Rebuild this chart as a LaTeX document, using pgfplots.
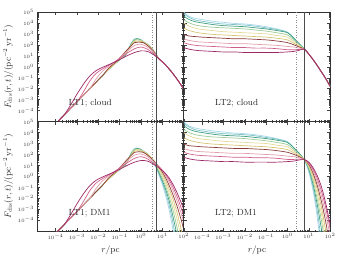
\documentclass[border=0pt]{standalone}
\usepackage{pgfplots}
\pgfplotsset{compat=1.18}
\usepgfplotslibrary{groupplots}
\definecolor{C1}{HTML}{A9D8EA}
\definecolor{C2}{HTML}{7CC3C9}
\definecolor{C3}{HTML}{3F9E80}
\definecolor{C4}{HTML}{9CCB96}
\definecolor{C5}{HTML}{E4DA98}
\definecolor{C6}{HTML}{D6C472}
\definecolor{C7}{HTML}{8C3B3A}
\definecolor{C8}{HTML}{E39CAB}
\definecolor{C9}{HTML}{CF5F8A}
\definecolor{C10}{HTML}{9C2766}
\pgfplotsset{crv/.style={line width=0.7pt, smooth, tension=0.5, no markers}}
% left panels (LT1): shared part up to r = 2 pc, tail given as argument
\newcommand{\LTa}[2]{\addplot[#1,crv] coordinates {(1e-4,6.310e-6) (1.259e-4,1e-5) (2.512e-4,3.981e-5) (5.012e-4,1.585e-4) (1e-3,6.310e-4) (1.995e-3,2.512e-3) (3.981e-3,1e-2) (7.943e-3,3.981e-2) (1.585e-2,0.1585) (3.162e-2,0.6310) (6.310e-2,1.995) (0.1259,6.310) (0.1778,10) (0.2512,39.81) (0.3548,158.5) (0.5012,354.8) (0.6310,398.1) (0.8913,316.2) (1.259,199.5) (1.995,112.2) #2};}
\newcommand{\LTb}[2]{\addplot[#1,crv] coordinates {(1e-4,6.310e-6) (1.259e-4,1e-5) (2.512e-4,3.981e-5) (5.012e-4,1.585e-4) (1e-3,6.310e-4) (1.995e-3,2.512e-3) (3.981e-3,1e-2) (7.943e-3,3.981e-2) (1.585e-2,0.1585) (3.162e-2,0.6310) (6.310e-2,1.995) (0.1259,6.310) (0.1778,10) (0.2512,35.48) (0.3548,141.3) (0.5012,316.2) (0.6310,354.8) (0.8913,316.2) (1.259,199.5) (1.995,112.2) #2};}
\newcommand{\LTc}[2]{\addplot[#1,crv] coordinates {(1e-4,6.310e-6) (1.259e-4,1e-5) (2.512e-4,3.981e-5) (5.012e-4,1.585e-4) (1e-3,6.310e-4) (1.995e-3,2.512e-3) (3.981e-3,1e-2) (7.943e-3,3.981e-2) (1.585e-2,0.1585) (3.162e-2,0.6310) (6.310e-2,1.995) (0.1259,6.310) (0.1778,10) (0.2512,31.62) (0.3548,125.9) (0.5012,281.8) (0.6310,354.8) (0.8913,316.2) (1.259,199.5) (1.995,112.2) #2};}
\newcommand{\LTd}[2]{\addplot[#1,crv] coordinates {(1e-4,6.310e-6) (1.259e-4,1e-5) (2.512e-4,3.981e-5) (5.012e-4,1.585e-4) (1e-3,6.310e-4) (1.995e-3,2.512e-3) (3.981e-3,1e-2) (7.943e-3,3.981e-2) (1.585e-2,0.1585) (3.162e-2,0.6310) (6.310e-2,1.995) (0.1259,6.310) (0.1778,11.22) (0.2512,31.62) (0.3981,177.8) (0.5623,316.2) (0.7943,281.8) (1.259,177.8) (1.995,112.2) #2};}
\newcommand{\LTe}[2]{\addplot[#1,crv] coordinates {(1e-4,6.310e-6) (1.259e-4,1e-5) (2.512e-4,3.981e-5) (5.012e-4,1.585e-4) (1e-3,6.310e-4) (1.995e-3,2.512e-3) (3.981e-3,1e-2) (7.943e-3,3.981e-2) (1.585e-2,0.1585) (3.162e-2,0.6310) (6.310e-2,1.995) (0.1259,7.079) (0.2512,31.62) (0.4467,199.5) (0.6310,281.8) (1,251.2) (1.995,112.2) #2};}
\newcommand{\LTf}[2]{\addplot[#1,crv] coordinates {(1e-4,6.310e-6) (1.259e-4,1e-5) (2.512e-4,3.981e-5) (5.012e-4,1.585e-4) (1e-3,6.310e-4) (1.995e-3,2.512e-3) (3.981e-3,1e-2) (7.943e-3,3.981e-2) (1.585e-2,0.1585) (3.162e-2,0.6310) (6.310e-2,2.239) (0.1259,7.943) (0.2512,39.81) (0.5012,199.5) (0.7079,223.9) (1,199.5) (1.995,100) #2};}
\newcommand{\LTg}[2]{\addplot[#1,crv] coordinates {(1e-4,6.310e-6) (1.259e-4,1e-5) (2.512e-4,3.981e-5) (5.012e-4,1.585e-4) (1e-3,6.310e-4) (1.995e-3,2.512e-3) (3.981e-3,1e-2) (7.943e-3,3.981e-2) (1.585e-2,0.1585) (3.162e-2,0.7943) (6.310e-2,2.512) (0.1259,10) (0.2512,44.67) (0.5012,158.5) (0.7943,177.8) (1.259,158.5) (1.995,89.13) #2};}
\newcommand{\LTh}[2]{\addplot[#1,crv] coordinates {(1e-4,6.310e-6) (1.259e-4,1e-5) (2.512e-4,3.981e-5) (5.012e-4,1.585e-4) (1e-3,6.310e-4) (1.995e-3,2.512e-3) (3.981e-3,1e-2) (7.943e-3,7.943e-2) (1.585e-2,0.3981) (3.162e-2,1.122) (6.310e-2,2.818) (0.1259,8.913) (0.2512,31.62) (0.5012,89.13) (1,112.2) (1.995,63.10) #2};}
\newcommand{\LTi}[2]{\addplot[#1,crv] coordinates {(1e-4,6.310e-6) (1.259e-4,1e-5) (2.512e-4,3.981e-5) (5.012e-4,1.585e-4) (1e-3,6.310e-4) (1.995e-3,5.012e-3) (3.981e-3,5.012e-2) (7.943e-3,0.2512) (1.585e-2,0.6310) (3.162e-2,1.413) (6.310e-2,3.162) (0.1259,7.943) (0.2512,19.95) (0.5012,44.67) (1,63.10) (1.995,39.81) #2};}
\newcommand{\LTj}[2]{\addplot[#1,crv] coordinates {(1e-4,6.310e-6) (1.259e-4,1e-5) (2.512e-4,3.981e-5) (5.012e-4,3.162e-4) (1e-3,3.162e-3) (1.995e-3,2.512e-2) (3.981e-3,0.1413) (7.943e-3,0.4467) (1.585e-2,0.8913) (3.162e-2,1.585) (6.310e-2,2.818) (0.1259,5.623) (0.2512,11.22) (0.5012,19.95) (1,28.18) (1.995,25.12) #2};}
% right panels (LT2)
\newcommand{\RTa}[2]{\addplot[#1,crv] coordinates {(1.35e-5,1e5) (2.512e-5,3.981e4) (5.012e-5,2.512e4) (1e-4,1.995e4) (3.162e-4,1.413e4) (1e-3,1.122e4) (3.162e-3,8913) (1e-2,7943) (3.162e-2,6310) (0.1,4467) (0.3162,2818) (1,1413) (1.995,398.1) #2};}
\newcommand{\RTb}[2]{\addplot[#1,crv] coordinates {(1.35e-5,7.079e4) (2.512e-5,3.162e4) (5.012e-5,1.778e4) (1e-4,1.413e4) (3.162e-4,1e4) (1e-3,7943) (3.162e-3,7079) (1e-2,6310) (3.162e-2,5012) (0.1,3548) (0.3162,2512) (1,1413) (1.995,398.1) #2};}
\newcommand{\RTc}[2]{\addplot[#1,crv] coordinates {(1.35e-5,4.467e4) (2.512e-5,1.995e4) (5.012e-5,1.259e4) (1e-4,1e4) (3.162e-4,7079) (1e-3,5623) (3.162e-3,5012) (1e-2,4467) (3.162e-2,3548) (0.1,2818) (0.3162,1995) (1,1259) (1.995,398.1) #2};}
\newcommand{\RTd}[2]{\addplot[#1,crv] coordinates {(1.35e-5,1.995e4) (2.512e-5,1e4) (5.012e-5,6310) (1e-4,5012) (3.162e-4,3981) (1e-3,3548) (3.162e-3,3162) (1e-2,2818) (3.162e-2,2239) (0.1,1778) (0.3162,1259) (1,794.3) (1.995,281.8) #2};}
\newcommand{\RTe}[2]{\addplot[#1,crv] coordinates {(1.35e-5,1e4) (2.512e-5,5012) (5.012e-5,3162) (1e-4,2512) (3.162e-4,1995) (1e-3,1585) (3.162e-3,1413) (1e-2,1259) (3.162e-2,1122) (0.1,1000) (0.3162,707.9) (1,501.2) (1.995,199.5) #2};}
\newcommand{\RTf}[2]{\addplot[#1,crv] coordinates {(1.35e-5,3548) (2.512e-5,1995) (5.012e-5,1413) (1e-4,1122) (3.162e-4,891.3) (1e-3,794.3) (3.162e-3,707.9) (1e-2,631.0) (3.162e-2,562.3) (0.1,501.2) (0.3162,398.1) (1,281.8) (1.995,141.3) #2};}
\newcommand{\RTg}[2]{\addplot[#1,crv] coordinates {(1.35e-5,891.3) (2.512e-5,631.0) (5.012e-5,562.3) (1e-4,501.2) (3.162e-4,446.7) (1e-3,398.1) (3.162e-3,354.8) (1e-2,354.8) (3.162e-2,316.2) (0.1,281.8) (0.3162,223.9) (1,158.5) (1.995,100) #2};}
\newcommand{\RTh}[2]{\addplot[#1,crv] coordinates {(1.35e-5,354.8) (2.512e-5,251.2) (5.012e-5,199.5) (1e-4,177.8) (3.162e-4,158.5) (1e-3,141.3) (3.162e-3,125.9) (1e-2,125.9) (3.162e-2,112.2) (0.1,100) (0.3162,89.13) (1,70.79) (1.995,63.10) #2};}
\newcommand{\RTi}[2]{\addplot[#1,crv] coordinates {(1.35e-5,158.5) (2.512e-5,112.2) (5.012e-5,89.13) (1e-4,79.43) (3.162e-4,70.79) (1e-3,63.10) (3.162e-3,56.23) (1e-2,56.23) (3.162e-2,50.12) (0.1,50.12) (0.3162,44.67) (1,35.48) (1.995,35.48) #2};}
\newcommand{\RTj}[2]{\addplot[#1,crv] coordinates {(1.35e-5,56.23) (2.512e-5,39.81) (5.012e-5,31.62) (1e-4,28.18) (3.162e-4,25.12) (1e-3,22.39) (3.162e-3,22.39) (1e-2,19.95) (3.162e-2,19.95) (0.1,19.95) (0.3162,19.95) (1,22.39) (1.995,25.12) #2};}
\begin{document}
\begin{tikzpicture}
\begin{groupplot}[
  group style={group size=2 by 2, horizontal sep=0pt, vertical sep=0pt,
    xticklabels at=edge bottom, yticklabels at=edge left},
  width=147.5bp, height=110.5bp, scale only axis,
  xmode=log, ymode=log, xmin=1.4e-5, xmax=100, ymin=1e-5, ymax=1e5,
  xtick={1e-4,1e-3,1e-2,1e-1,1,10,100},
  ytick={1e-4,1e-3,1e-2,1e-1,1,10,100,1e3,1e4,1e5},
  tick label style={font=\fontsize{5.5}{6.5}\selectfont, text=black!80},
  major tick length=3bp, minor tick length=1.5bp,
  tick style={black!75, line width=0.4pt},
  axis line style={black!80, line width=0.6pt},
  label style={font=\fontsize{9}{10}\selectfont, text=black!85},
  xticklabel style={yshift=1pt},
  ylabel style={yshift=-2pt},
]
% ---------------- LT1; cloud
\nextgroupplot[ylabel={$F_{\mathrm{dis}}(r,t)/(\mathrm{pc}^{-2}\,\mathrm{yr}^{-1})$}]
\LTa{C1}{(3.548,35.48) (7.079,5.012) (10,2.818) (15.85,1.122) (25.12,0.3981) (39.81,0.1259) (63.10,3.548e-2) (100,8.913e-3)}
\LTb{C2}{(3.548,35.48) (7.079,5.012) (10,2.818) (15.85,1.122) (25.12,0.3981) (39.81,0.1259) (63.10,3.548e-2) (100,8.913e-3)}
\LTc{C3}{(3.548,35.48) (7.079,5.012) (10,2.818) (15.85,1.122) (25.12,0.3981) (39.81,0.1259) (63.10,3.548e-2) (100,8.913e-3)}
\LTd{C4}{(3.548,35.48) (7.079,5.012) (10,2.818) (15.85,1.122) (25.12,0.3981) (39.81,0.1259) (63.10,3.548e-2) (100,8.913e-3)}
\LTe{C5}{(3.548,35.48) (7.079,5.012) (10,2.818) (15.85,1.122) (25.12,0.3981) (39.81,0.1259) (63.10,3.548e-2) (100,8.913e-3)}
\LTf{C6}{(3.548,35.48) (7.079,5.012) (10,2.818) (15.85,1.122) (25.12,0.3981) (39.81,0.1259) (63.10,3.548e-2) (100,8.913e-3)}
\LTg{C7}{(3.548,31.62) (7.079,5.012) (10,2.818) (15.85,1.122) (25.12,0.3981) (39.81,0.1259) (63.10,3.548e-2) (100,8.913e-3)}
\LTh{C8}{(3.548,25.12) (7.079,5.012) (10,2.818) (15.85,1.122) (25.12,0.3981) (39.81,0.1259) (63.10,3.548e-2) (100,8.913e-3)}
\LTi{C9}{(3.548,17.78) (7.079,5.012) (10,2.818) (15.85,1.122) (25.12,0.3981) (39.81,0.1259) (63.10,3.548e-2) (100,8.913e-3)}
\LTj{C10}{(3.548,14.13) (7.079,5.012) (10,2.818) (15.85,1.122) (25.12,0.3981) (39.81,0.1259) (63.10,3.548e-2) (100,8.913e-3)}
\addplot[black!45, dotted, line width=0.5pt] coordinates {(3.31,1e-5) (3.31,1e5)};
\addplot[black!70, line width=0.8pt] coordinates {(5.0,1e-5) (5.0,1e5)};
\node[anchor=west, font=\fontsize{9}{10}\selectfont, text=black!85] at (rel axis cs:0.19,0.165) {LT1; cloud};
% ---------------- LT2; cloud
\nextgroupplot
\RTa{C1}{(3.548,125.9) (6.310,39.81) (10,14.13) (15.85,4.467) (25.12,1.259) (39.81,0.3162) (63.10,7.943e-2) (100,1.585e-2)}
\RTb{C2}{(3.548,125.9) (6.310,39.81) (10,14.13) (15.85,4.467) (25.12,1.259) (39.81,0.3162) (63.10,7.943e-2) (100,1.585e-2)}
\RTc{C3}{(3.548,125.9) (6.310,39.81) (10,14.13) (15.85,4.467) (25.12,1.259) (39.81,0.3162) (63.10,7.943e-2) (100,1.585e-2)}
\RTd{C4}{(3.548,100) (6.310,39.81) (10,14.13) (15.85,4.467) (25.12,1.259) (39.81,0.3162) (63.10,7.943e-2) (100,1.585e-2)}
\RTe{C5}{(3.548,89.13) (6.310,39.81) (10,14.13) (15.85,4.467) (25.12,1.259) (39.81,0.3162) (63.10,7.943e-2) (100,1.585e-2)}
\RTf{C6}{(3.548,70.79) (6.310,39.81) (10,14.13) (15.85,4.467) (25.12,1.259) (39.81,0.3162) (63.10,7.943e-2) (100,1.585e-2)}
\RTg{C7}{(3.548,63.10) (6.310,39.81) (10,14.13) (15.85,4.467) (25.12,1.259) (39.81,0.3162) (63.10,7.943e-2) (100,1.585e-2)}
\RTh{C8}{(3.548,50.12) (6.310,39.81) (10,14.13) (15.85,4.467) (25.12,1.259) (39.81,0.3162) (63.10,7.943e-2) (100,1.585e-2)}
\RTi{C9}{(3.548,38.02) (6.310,39.81) (10,14.13) (15.85,4.467) (25.12,1.259) (39.81,0.3162) (63.10,7.943e-2) (100,1.585e-2)}
\RTj{C10}{(3.548,31.62) (6.310,39.81) (10,14.13) (15.85,4.467) (25.12,1.259) (39.81,0.3162) (63.10,7.943e-2) (100,1.585e-2)}
\addplot[black!45, dotted, line width=0.5pt] coordinates {(2.57,1e-5) (2.57,1e5)};
\addplot[black!70, line width=0.8pt] coordinates {(6.0,1e-5) (6.0,1e5)};
\node[anchor=west, font=\fontsize{9}{10}\selectfont, text=black!85] at (rel axis cs:0.19,0.165) {LT2; cloud};
% ---------------- LT1; DM1
\nextgroupplot[ylabel={$F_{\mathrm{dis}}(r,t)/(\mathrm{pc}^{-2}\,\mathrm{yr}^{-1})$}, xlabel={$r/\mathrm{pc}$}]
\LTa{C1}{(3.548,28.18) (7.079,1.122) (12.59,3.981e-2) (19.95,1.259e-3) (31.62,1.259e-5) (39.81,1e-6)}
\LTb{C2}{(3.548,31.62) (7.079,1.585) (12.59,7.079e-2) (19.95,3.162e-3) (31.62,5.012e-5) (44.67,1e-6)}
\LTc{C3}{(3.548,31.62) (7.079,1.995) (12.59,0.1259) (19.95,7.943e-3) (31.62,1.995e-4) (50.12,3.162e-6) (56.23,1e-6)}
\LTd{C4}{(3.548,33.11) (7.079,2.818) (12.59,0.2239) (19.95,1.778e-2) (31.62,7.943e-4) (50.12,1.585e-5) (63.10,1e-6)}
\LTe{C5}{(3.548,35.48) (7.079,3.981) (12.59,0.3981) (19.95,3.981e-2) (31.62,2.512e-3) (50.12,1e-4) (70.79,3.981e-6) (79.43,1e-6)}
\LTf{C6}{(3.548,35.48) (7.079,5.623) (12.59,0.7079) (19.95,8.913e-2) (31.62,7.943e-3) (50.12,3.981e-4) (79.43,1e-5) (100,1.259e-6)}
\LTg{C7}{(3.548,31.62) (7.079,7.079) (12.59,1.122) (19.95,0.1778) (31.62,1.995e-2) (50.12,1.585e-3) (79.43,7.943e-5) (100,1.259e-5)}
\LTh{C8}{(3.548,25.12) (7.079,7.943) (12.59,1.778) (19.95,0.3548) (31.62,5.012e-2) (50.12,5.012e-3) (79.43,3.162e-4) (100,6.310e-5)}
\LTi{C9}{(3.548,17.78) (7.079,7.079) (12.59,2.239) (19.95,0.5623) (31.62,0.1) (50.12,1.259e-2) (79.43,1e-3) (100,2.512e-4)}
\LTj{C10}{(3.548,14.13) (7.079,5.623) (12.59,2.239) (19.95,0.7943) (31.62,0.1778) (50.12,2.818e-2) (79.43,3.162e-3) (100,1e-3)}
\addplot[black!45, dotted, line width=0.5pt] coordinates {(3.31,1e-5) (3.31,1e5)};
\addplot[black!70, line width=0.8pt] coordinates {(5.0,1e-5) (5.0,1e5)};
\node[anchor=west, font=\fontsize{9}{10}\selectfont, text=black!85] at (rel axis cs:0.19,0.165) {LT1; DM1};
% ---------------- LT2; DM1
\nextgroupplot[xlabel={$r/\mathrm{pc}$}]
\RTa{C1}{(3.548,125.9) (6.310,28.18) (10,2.512) (15.85,5.012e-2) (22.39,7.943e-4) (31.62,5.012e-6)}
\RTb{C2}{(3.548,125.9) (6.310,30.2) (10,3.548) (15.85,0.1) (25.12,6.310e-4) (35.48,5.012e-6)}
\RTc{C3}{(3.548,125.9) (6.310,31.62) (10,5.012) (15.85,0.1995) (25.12,2.512e-3) (39.81,1.259e-5) (44.67,3.162e-6)}
\RTd{C4}{(3.548,100) (6.310,31.62) (10,6.310) (15.85,0.3981) (25.12,7.943e-3) (39.81,7.943e-5) (50.12,3.981e-6)}
\RTe{C5}{(3.548,89.13) (6.310,33.11) (10,7.943) (15.85,0.7079) (25.12,2.239e-2) (39.81,3.162e-4) (56.23,5.012e-6)}
\RTf{C6}{(3.548,70.79) (6.310,33.11) (10,10) (15.85,1.259) (25.12,6.310e-2) (39.81,1.259e-3) (63.10,1e-5) (70.79,2.512e-6)}
\RTg{C7}{(3.548,63.10) (6.310,33.88) (10,12.59) (15.85,1.995) (25.12,0.1413) (39.81,4.467e-3) (63.10,6.310e-5) (79.43,3.981e-6)}
\RTh{C8}{(3.548,50.12) (6.310,33.88) (10,15.14) (15.85,3.162) (25.12,0.3162) (39.81,1.413e-2) (63.10,3.162e-4) (100,3.981e-6)}
\RTi{C9}{(3.548,38.02) (6.310,33.88) (10,17.78) (15.85,4.467) (25.12,0.6310) (39.81,3.981e-2) (63.10,1.259e-3) (100,1.585e-5)}
\RTj{C10}{(3.548,31.62) (6.310,33.88) (10,19.95) (15.85,6.310) (25.12,1.122) (39.81,0.1) (63.10,3.162e-3) (100,3.981e-5)}
\addplot[black!45, dotted, line width=0.5pt] coordinates {(2.57,1e-5) (2.57,1e5)};
\addplot[black!70, line width=0.8pt] coordinates {(6.0,1e-5) (6.0,1e5)};
\node[anchor=west, font=\fontsize{9}{10}\selectfont, text=black!85] at (rel axis cs:0.19,0.165) {LT2; DM1};
\end{groupplot}
\path ([xshift=-35bp,yshift=12bp]group c1r1.north west) rectangle ([xshift=18bp,yshift=-28bp]group c2r2.south east);
\end{tikzpicture}
\end{document}
